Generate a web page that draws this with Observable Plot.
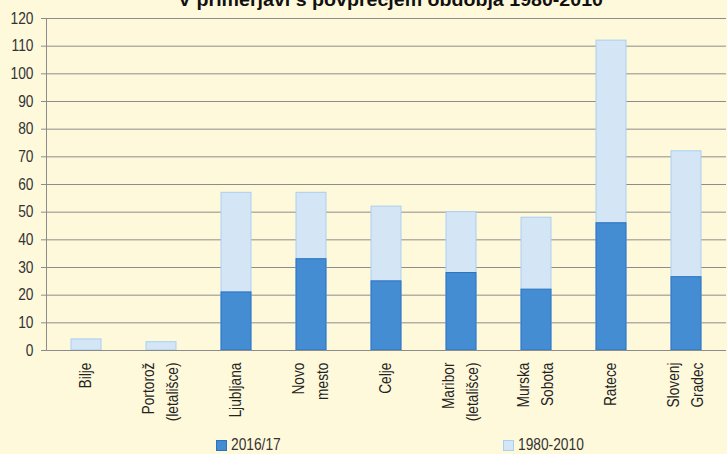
<!DOCTYPE html>
<html>
<head>
<meta charset="utf-8">
<script src="https://cdn.jsdelivr.net/npm/d3@7"></script>
<script src="https://cdn.jsdelivr.net/npm/@observablehq/plot@0.6"></script>
<style>
  html, body { margin: 0; padding: 0; background: #fff9db; overflow: hidden; }
  #wrap { position: relative; width: 727px; height: 454px; font-family: "Liberation Sans", Arial, sans-serif; color: #333; }
  #title { position: absolute; top: -9px; left: 0; font-weight: bold; font-size: 18px; line-height: 18px; color: #111; white-space: nowrap; transform-origin: 0 0; }
  #chart { position: absolute; left: 0; top: 0; }
  .leg { position: absolute; top: 437px; font-size: 16px; line-height: 16px; color: #333; white-space: nowrap; }
  .sw { position: absolute; left: 0; top: 3px; width: 11px; height: 11px; box-sizing: border-box; }
  .lt { position: absolute; left: 15px; top: 0; display: inline-block; transform: scaleX(0.86); transform-origin: 0 0; }
  .cond { transform-box: fill-box; transform-origin: right center; transform: scaleX(0.86); }
</style>
</head>
<body>
<div id="wrap">
  <div id="chart"></div>
  <div id="title">V primerjavi s povprečjem obdobja 1980-2010</div>
  <div class="leg" style="left:216px"><span class="sw" style="background:#448dd2;border:1px solid #2a73c3"></span><span class="lt">2016/17</span></div>
  <div class="leg" style="left:503px"><span class="sw" style="background:#d4e5f5;border:1px solid #a9cff3"></span><span class="lt">1980-2010</span></div>
</div>
<script>
const stations = ["Bilje", "Portorož\n(letališce)", "Ljubljana", "Novo\nmesto", "Celje", "Maribor\n(letališce)", "Murska\nSobota", "Ratece", "Slovenj\nGradec"];
const avg19802010 = [4, 3, 57, 57, 52, 50, 48, 112, 72];
const season201617 = [0, 0, 21, 33, 25, 28, 22, 46, 26.5];
const yTicks = [0, 10, 20, 30, 40, 50, 60, 70, 80, 90, 100, 110, 120];

const data = stations.map((s, i) => ({station: s, avg: avg19802010[i], cur: season201617[i]}));
const lines = stations.flatMap(s => {
  const parts = s.split("\n");
  return parts.map((t, k) => ({station: s, line: t, k, n: parts.length}));
});
const single = lines.filter(d => d.n === 1);
const first = lines.filter(d => d.n === 2 && d.k === 0);
const second = lines.filter(d => d.n === 2 && d.k === 1);

const labelOpts = {x: "station", text: "line", frameAnchor: "bottom", rotate: -90, textAnchor: "end", fontSize: 16, fill: "#222"};

const chart = Plot.plot({
  width: 727,
  height: 436,
  marginTop: 18,
  marginBottom: 86,
  marginLeft: 46,
  marginRight: 1,
  style: {background: "transparent", fontFamily: "'Liberation Sans', Arial, sans-serif", fontSize: "16px", color: "#333", overflow: "visible"},
  x: {domain: stations, paddingInner: 0.6, paddingOuter: 0.3, axis: null},
  y: {domain: [0, 120], axis: null},
  marks: [
    Plot.gridY(yTicks, {stroke: "#8c8c8c", strokeOpacity: 1, strokeWidth: 1}),
    Plot.barY(data, {x: "station", y: "avg", fill: "#d4e5f5", stroke: "#a9cff3", strokeWidth: 1}),
    Plot.barY(data.filter(d => d.cur > 0), {x: "station", y: "cur", fill: "#448dd2", stroke: "#2a73c3", strokeWidth: 1}),
    Plot.ruleY([0], {stroke: "#8c8c8c"}),
    Plot.frame({anchor: "left", stroke: "#8c8c8c"}),
    Plot.axisY(yTicks, {tickSize: 5, tickPadding: 8, stroke: "#8c8c8c", fontSize: 16, fill: "#333", label: null}),
    Plot.text(single, {...labelOpts, dy: 12, dx: 4}),
    Plot.text(first, {...labelOpts, dy: 12, dx: -8}),
    Plot.text(second, {...labelOpts, dy: 12, dx: 16})
  ]
});
document.getElementById("chart").appendChild(chart);

// condense glyphs (Arial Narrow look)
const S = 0.86;
d3.select(chart).selectAll("text").each(function() {
  const t = this.getAttribute("transform") || "";
  if (t.includes("rotate")) {
    this.setAttribute("transform", `${t} scale(${S},1)`);
  } else {
    const g = document.createElementNS("http://www.w3.org/2000/svg", "g");
    g.setAttribute("class", "cond");
    this.parentNode.insertBefore(g, this);
    g.appendChild(this);
  }
});

// title: fit to reference width, centred
const title = document.getElementById("title");
const w = title.getBoundingClientRect().width;
const targetW = 425, cx = 390;
title.style.left = (cx - targetW / 2) + "px";
title.style.transform = `scaleX(${targetW / w})`;
</script>
</body>
</html>
